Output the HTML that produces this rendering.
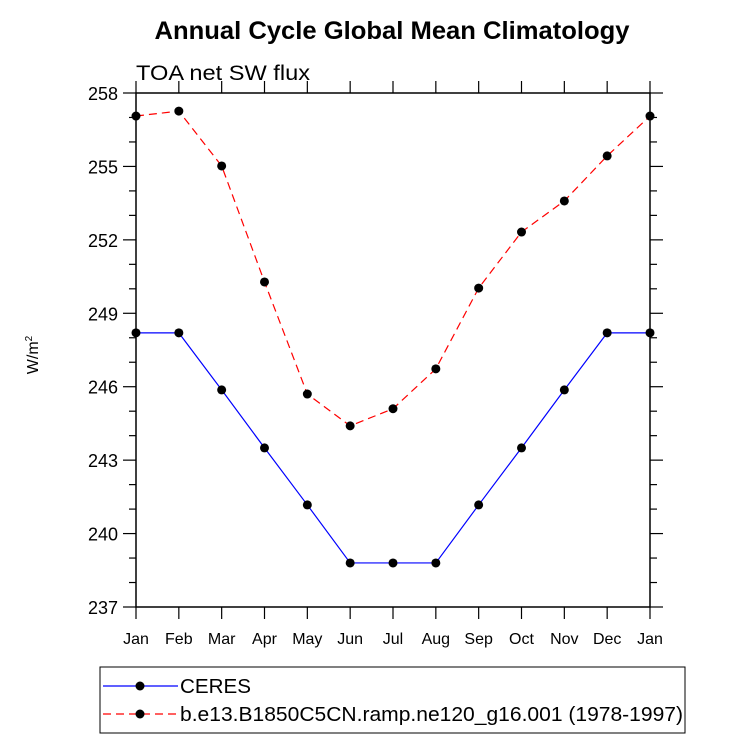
<!DOCTYPE html>
<html><head><style>
body{margin:0;background:#fff;}
svg{display:block;font-family:"Liberation Sans",sans-serif;}
</style></head><body>
<svg id="chart" width="733" height="741">
<text x="392" y="39" text-anchor="middle" font-size="25" font-weight="bold" textLength="475" lengthAdjust="spacingAndGlyphs">Annual Cycle Global Mean Climatology</text>
<text x="136" y="80" font-size="21" textLength="174" lengthAdjust="spacingAndGlyphs">TOA net SW flux</text>
<text transform="translate(38,355) rotate(-90)" text-anchor="middle" font-size="16">W/m<tspan font-size="10" dy="-6">2</tspan></text>
<g id="axes"></g>
<g id="series"></g>
<rect x="100" y="667" width="585" height="66" fill="none" stroke="#000" stroke-width="1"/>
<g>
<line x1="103" y1="686" x2="178" y2="686" stroke="#00f" stroke-width="1.2"/>
<circle cx="140" cy="686" r="4.5" fill="#000"/>
<text x="180" y="693" font-size="20" textLength="71" lengthAdjust="spacingAndGlyphs">CERES</text>
</g>
<g>
<line x1="103" y1="714" x2="178" y2="714" stroke="#f00" stroke-width="1.2" stroke-dasharray="8,5"/>
<circle cx="140" cy="714" r="4.5" fill="#000"/>
<text x="180" y="721" font-size="20" textLength="503" lengthAdjust="spacingAndGlyphs">b.e13.B1850C5CN.ramp.ne120_g16.001 (1978-1997)</text>
</g>
</svg>
<script>
const months=["Jan","Feb","Mar","Apr","May","Jun","Jul","Aug","Sep","Oct","Nov","Dec","Jan"];
const yTicks=[237,240,243,246,249,252,255,258];
const ceres=[248.2,248.2,245.87,243.5,241.17,238.8,238.8,238.8,241.17,243.5,245.87,248.2,248.2];
const model=[257.06,257.26,255.02,250.28,245.7,244.4,245.1,246.73,250.03,252.32,253.59,255.43,257.06];
const X0=136,X1=650,Y0=607,Y1=93,ymin=237,ymax=258;
const xs=i=>X0+(X1-X0)*i/(months.length-1);
const ys=v=>Y0-(Y0-Y1)*(v-ymin)/(ymax-ymin);
const NS="http://www.w3.org/2000/svg";
function mk(p,t,a){const e=document.createElementNS(NS,t);for(const k in a)e.setAttribute(k,a[k]);p.appendChild(e);return e;}
const ax=document.getElementById('axes');
const frame=mk(ax,'rect',{x:X0,y:Y1,width:X1-X0,height:Y0-Y1,fill:'none',stroke:'#000','stroke-width':1.5});


for(let v=ymin;v<=ymax;v++){
 const major=yTicks.includes(v);const L=major?13:7;const y=ys(v);
 mk(ax,'line',{x1:X0-L,y1:y,x2:X0,y2:y,stroke:'#000','stroke-width':1.2});
 mk(ax,'line',{x1:X1,y1:y,x2:X1+L,y2:y,stroke:'#000','stroke-width':1.2});
 if(major){const t=mk(ax,'text',{x:X0-18,y:y+7,'text-anchor':'end','font-size':18});t.textContent=v;
 
 }
}
months.forEach((m,i)=>{const x=xs(i);
 mk(ax,'line',{x1:x,y1:Y0,x2:x,y2:Y0+12,stroke:'#000','stroke-width':1.2});
 mk(ax,'line',{x1:x,y1:Y1-12,x2:x,y2:Y1,stroke:'#000','stroke-width':1.2});
 const t=mk(ax,'text',{x:x,y:Y0+37,'text-anchor':'middle','font-size':16});t.textContent=m;
 
 
});
const sg=document.getElementById('series');
function series(vals,color,dash,name){
 const pl=mk(sg,'polyline',{points:vals.map((v,i)=>xs(i)+','+ys(v)).join(' '),fill:'none',stroke:color,'stroke-width':1.2});
 if(dash)pl.setAttribute('stroke-dasharray',dash);
 
 
 vals.forEach((v,i)=>{const c=mk(sg,'circle',{cx:xs(i),cy:ys(v),r:4.5,fill:'#000'});
 
 });
}
series(ceres,'#00f',null,'ceres');
series(model,'#f00','8,5','model');
</script>
</body></html>
